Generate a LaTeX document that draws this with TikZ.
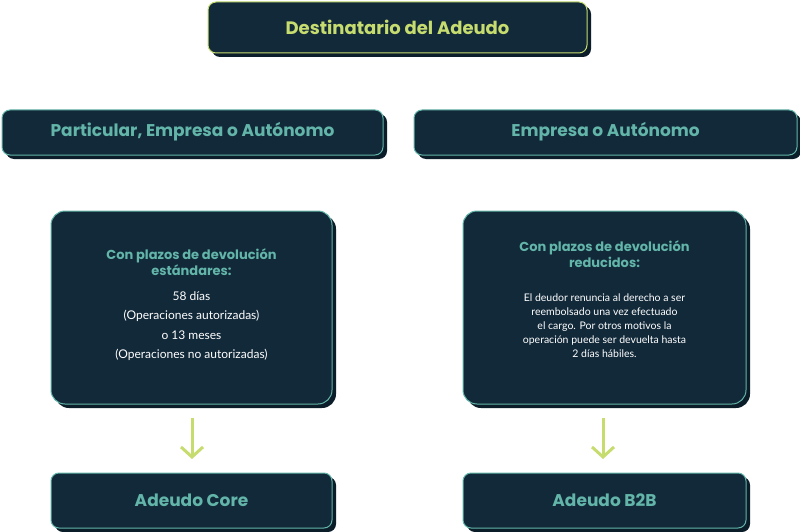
\documentclass[tikz,border=0pt]{standalone}
\usepackage{fontspec}
\setmainfont{Lato}
\newfontfamily\pop{Poppins}
\usetikzlibrary{arrows.meta}
\definecolor{boxfill}{HTML}{12293A}
\definecolor{shad}{HTML}{0B1D28}
\definecolor{lime}{HTML}{C6DC6F}
\definecolor{teal}{HTML}{62B5A8}
\tikzset{
 box/.style={draw=teal, line width=1pt, fill=boxfill, rounded corners=8pt},
 shbox/.style={fill=shad, rounded corners=8pt},
 head/.style={font=\pop\fontsize{17}{20}\selectfont\bfseries, text=teal},
 body/.style={font=\fontsize{10.5}{14}\selectfont, text=white, align=center},
 arr/.style={draw=lime, line width=3pt, -{Straight Barb[length=10pt,width=22pt,line width=3pt]}}
}
\begin{document}
\begin{tikzpicture}[x=1pt,y=-1pt]
\useasboundingbox (0,0) rectangle (800,532);
% top
\fill[shbox] (212,6) rectangle (591,57);
\draw[box,draw=lime] (208,2) rectangle (587,53);
\node[font=\pop\fontsize{18}{20}\selectfont\bfseries, text=lime] (top) at (397.5,27) {Destinatario del Adeudo};
% level 2
\fill[shbox] (6,114) rectangle (387,159);
\draw[box] (2,110) rectangle (383,155);
\node[head] (l2a) at (192.5,132) {Particular, Empresa o Autónomo};
\fill[shbox] (418,114) rectangle (801,159);
\draw[box] (414,110) rectangle (797,155);
\node[head] (l2b) at (605.5,132) {Empresa o Autónomo};
% middle
\fill[shbox,rounded corners=14pt] (55,215) rectangle (336,408);
\draw[box,rounded corners=14pt] (51,211) rectangle (332,404);
\node[head,font=\pop\fontsize{13}{16}\selectfont\bfseries,align=center] (mah) at (191.5,262) {Con plazos de devolución\\estándares:};
\node[body,font=\fontsize{12}{19.5}\selectfont] (mab) at (191.5,326) {58 días\\(Operaciones autorizadas)\\o 13 meses\\(Operaciones no autorizadas)};
\fill[shbox,rounded corners=14pt] (467,215) rectangle (750,408);
\draw[box,rounded corners=14pt] (463,211) rectangle (746,404);
\node[head,font=\pop\fontsize{13}{16}\selectfont\bfseries,align=center] (mbh) at (604.5,254) {Con plazos de devolución\\reducidos:};
\node[body] (mbb) at (604.5,326) {El deudor renuncia al derecho a ser\\reembolsado una vez efectuado\\el cargo. Por otros motivos la\\operación puede ser devuelta hasta\\2 días hábiles.};
% arrows
\coordinate (a1s) at (192,418); \coordinate (a1e) at (192,459);
\coordinate (a2s) at (603,418); \coordinate (a2e) at (603,459);
\draw[arr] (a1s) -- (a1e);
\draw[arr] (a2s) -- (a2e);
% bottom
\fill[shbox] (55,477) rectangle (336,532);
\draw[box] (51,473) rectangle (332,528);
\node[head] (core) at (191.5,500) {Adeudo Core};
\fill[shbox] (467,477) rectangle (750,532);
\draw[box] (463,473) rectangle (746,528);
\node[head] (b2b) at (604.5,500) {Adeudo B2B};
\end{tikzpicture}
\end{document}
